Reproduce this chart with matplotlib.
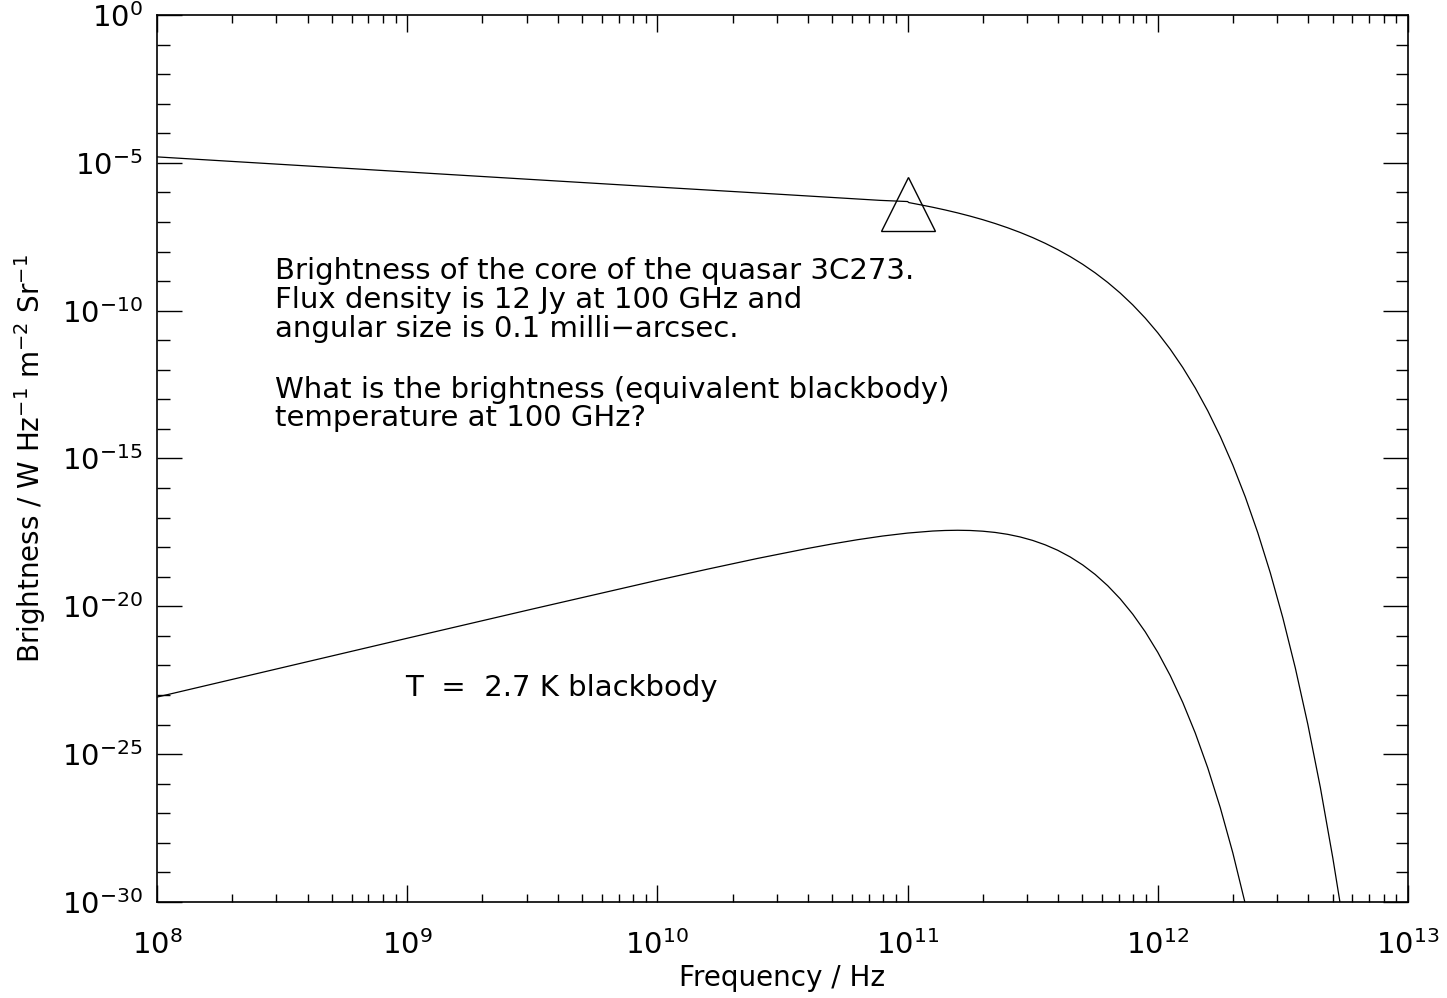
import numpy as np
import matplotlib
matplotlib.use("Agg")
import matplotlib.pyplot as plt
from matplotlib.ticker import FixedLocator, FuncFormatter, NullFormatter

# values (log10 of frequency / Hz and brightness)
quasar_log_nu = [8.0, 9.0, 10.0, 10.5, 10.89, 11.0,
                 11.005, 11.05, 11.10, 11.15, 11.20, 11.25, 11.30, 11.35, 11.40,
                 11.45, 11.50, 11.55, 11.60, 11.65, 11.70, 11.75, 11.80, 11.85,
                 11.90, 11.95, 12.00, 12.05, 12.10, 12.15, 12.20, 12.25, 12.30,
                 12.35, 12.40, 12.45, 12.50, 12.55, 12.60, 12.65, 12.70, 12.73]
quasar_log_b = [-4.80, -5.31, -5.82, -6.07, -6.27, -6.31,
                -6.345, -6.418, -6.502, -6.594, -6.694, -6.803, -6.922, -7.053, -7.197,
                -7.355, -7.529, -7.722, -7.935, -8.171, -8.432, -8.723, -9.046, -9.405,
                -9.805, -10.251, -10.749, -11.304, -11.923, -12.615, -13.389, -14.254, -15.221,
                -16.303, -17.515, -18.871, -20.390, -22.090, -23.996, -26.130, -28.522, -30.094]

cmb_log_nu = [8.0, 9.0, 9.5, 10.0, 10.2, 10.4, 10.6, 10.7, 10.8, 10.9, 11.0,
              11.1, 11.15, 11.2, 11.25, 11.3, 11.35, 11.4, 11.45, 11.5, 11.55,
              11.6, 11.65, 11.7, 11.75, 11.8, 11.85, 11.9, 11.95, 12.0, 12.05,
              12.1, 12.15, 12.2, 12.25, 12.3, 12.35]
cmb_log_b = [-23.07, -21.08, -20.093, -19.120, -18.744, -18.381, -18.044, -17.889,
             -17.747, -17.623, -17.523, -17.454, -17.435, -17.428, -17.435, -17.459,
             -17.501, -17.565, -17.654, -17.771, -17.920, -18.104, -18.330, -18.601,
             -18.923, -19.303, -19.747, -20.264, -20.862, -21.552, -22.343, -23.251,
             -24.286, -25.467, -26.810, -28.336, -30.065]

point_nu = [1e11]
point_b = [10 ** -6.39]

note_1 = ("Brightness of the core of the quasar 3C273.\n"
          "Flux density is 12 Jy at 100 GHz and\n"
          "angular size is 0.1 milli\u2212arcsec.")
note_2 = ("What is the brightness (equivalent blackbody)\n"
          "temperature at 100 GHz?")
note_3 = "T  =  2.7 K blackbody"

plt.rcParams["font.family"] = ["DejaVu Sans"]
plt.rcParams["mathtext.default"] = "regular"

fig = plt.figure(figsize=(14.47, 9.98), dpi=100)
ax = fig.add_axes([0.1085, 0.0962, 0.8645, 0.8888])

ax.plot(10.0 ** np.array(quasar_log_nu), 10.0 ** np.array(quasar_log_b), color="black", lw=0.9)
ax.plot(10.0 ** np.array(cmb_log_nu), 10.0 ** np.array(cmb_log_b), color="black", lw=0.9)
ax.plot(point_nu, point_b, marker="^", ms=39, mfc="none", mec="black", mew=1.0, ls="none")

ax.set_xscale("log")
ax.set_yscale("log")
ax.set_xlim(1e8, 1e13)
ax.set_ylim(1e-30, 1e0)

ax.xaxis.set_major_locator(FixedLocator(10.0 ** np.arange(8, 14)))
ax.xaxis.set_minor_locator(FixedLocator([m * 10.0 ** e for e in range(8, 13) for m in range(2, 10)]))
ax.yaxis.set_major_locator(FixedLocator(10.0 ** np.arange(-30, 1, 5)))
ax.yaxis.set_minor_locator(FixedLocator(10.0 ** np.arange(-30, 1)))
fmt = FuncFormatter(lambda v, p: r"$10^{%d}$" % round(np.log10(v)))
ax.xaxis.set_major_formatter(fmt)
ax.yaxis.set_major_formatter(fmt)
ax.xaxis.set_minor_formatter(NullFormatter())
ax.yaxis.set_minor_formatter(NullFormatter())

ax.tick_params(axis="both", which="both", direction="in", top=True, right=True,
               labelsize=21, colors="black", width=1.0)
ax.tick_params(axis="x", which="major", length=12, pad=20)
ax.tick_params(axis="x", which="minor", length=6)
ax.tick_params(axis="y", which="major", length=18, pad=10)
ax.tick_params(axis="y", which="minor", length=9)
for s in ax.spines.values():
    s.set_linewidth(1.2)

ax.set_xlabel("Frequency / Hz", fontsize=20)
ax.xaxis.set_label_coords(0.5, -0.07)
ax.set_ylabel(r"Brightness / W Hz$^{-1}$ m$^{-2}$ Sr$^{-1}$", fontsize=20, labelpad=10)

ax.text(10 ** 8.472, 10 ** -8.2, note_1, fontsize=21, va="top", ha="left", linespacing=1.03)
ax.text(10 ** 8.472, 10 ** -12.2, note_2, fontsize=21, va="top", ha="left", linespacing=1.03)
ax.text(10 ** 8.99, 10 ** -22.3, note_3, fontsize=21, va="top", ha="left")

fig.savefig("out.png", dpi=100)
